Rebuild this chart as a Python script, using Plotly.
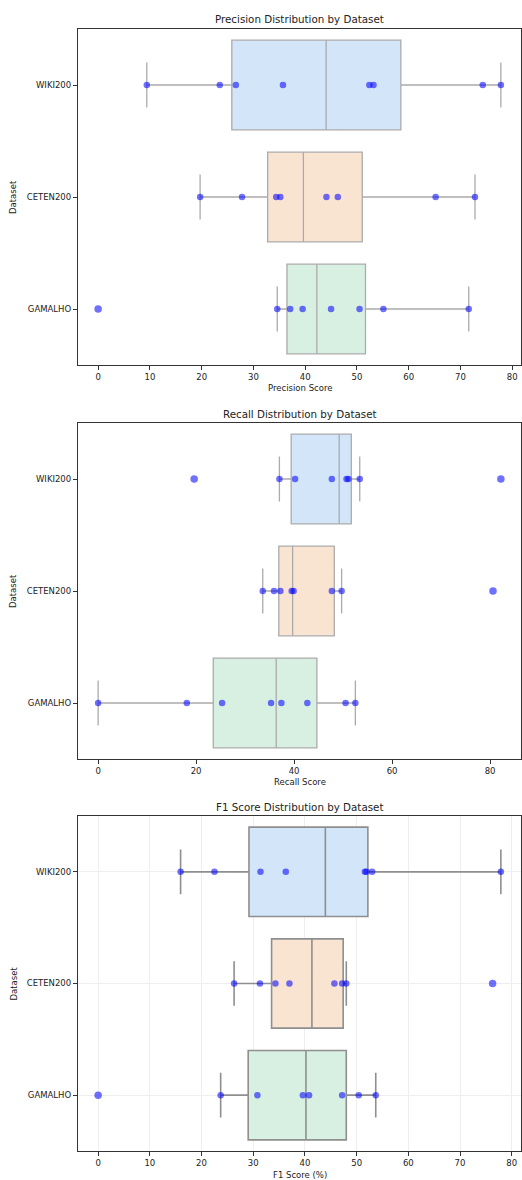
import numpy as np
import plotly.graph_objects as go

datasets = ["WIKI200", "CETEN200", "GAMALHO"]

precision = {
    "WIKI200": [9.4, 23.5, 26.6, 35.7, 52.4, 53.2, 74.3, 77.8],
    "CETEN200": [19.7, 27.8, 34.4, 35.2, 44.1, 46.3, 65.2, 72.8],
    "GAMALHO": [0.0, 34.6, 37.1, 39.5, 45.0, 50.5, 55.1, 71.6],
}
recall = {
    "WIKI200": [19.6, 37.0, 40.2, 47.7, 50.7, 51.1, 53.4, 82.2],
    "CETEN200": [33.6, 35.9, 37.2, 39.5, 39.9, 47.7, 49.7, 80.6],
    "GAMALHO": [0.0, 18.1, 25.3, 35.3, 37.4, 42.7, 50.5, 52.5],
}
f1 = {
    "WIKI200": [15.95, 22.5, 31.4, 36.3, 51.6, 51.9, 53.0, 77.9],
    "CETEN200": [26.3, 31.3, 34.3, 37.0, 45.7, 47.2, 48.0, 76.3],
    "GAMALHO": [0.0, 23.7, 30.8, 39.6, 40.8, 47.2, 50.4, 53.7],
}

panels = [
    ("Precision Distribution by Dataset", "Precision Score", precision, 10),
    ("Recall Distribution by Dataset", "Recall Score", recall, 20),
    ("F1 Score Distribution by Dataset", "F1 Score (%)", f1, 10),
]

fills = {"WIKI200": "#d3e5f9", "CETEN200": "#f9e4d2", "GAMALHO": "#d8f0e2"}

W, H = 522, 1180
L, R = 78, 1
# pixel top/bottom of each axes frame
frames = [(29, 365), (423, 759), (816, 1151)]
title_y = [19, 414, 807]
xlabel_y = [388, 782, 1175]

FONT = "DejaVu Sans"
fig = go.Figure()
annotations = []

for i, (title, xlabel, data, dtick) in enumerate(panels):
    n = i + 1
    xa = "x" if n == 1 else f"x{n}"
    ya = "y" if n == 1 else f"y{n}"
    grid = (i == 2)
    edge = "#8f8f8f" if grid else "#ababab"
    lw = 1.6 if grid else 1.3
    allv = []
    for ds in datasets:
        vals = np.array(data[ds], dtype=float)
        allv.extend(vals.tolist())
        q1, med, q3 = np.percentile(vals, [25, 50, 75])
        iqr = q3 - q1
        lo_lim, hi_lim = q1 - 1.5 * iqr, q3 + 1.5 * iqr
        inside = vals[(vals >= lo_lim) & (vals <= hi_lim)]
        lf, uf = inside.min(), inside.max()
        fig.add_trace(go.Box(
            y=[ds], q1=[q1], median=[med], q3=[q3], lowerfence=[lf], upperfence=[uf],
            orientation="h", boxpoints=False, width=0.8, whiskerwidth=0.5,
            fillcolor=fills[ds], line=dict(color=edge, width=lw),
            xaxis=xa, yaxis=ya, showlegend=False, hoverinfo="skip",
        ))
        out = (vals < lo_lim) | (vals > hi_lim)
        sizes = [7.5 if o else 6.5 for o in out]
        fig.add_trace(go.Scatter(
            x=vals, y=[ds] * len(vals), mode="markers",
            marker=dict(color="rgba(0,0,255,0.8)", size=sizes, line=dict(width=0)),
            xaxis=xa, yaxis=ya, showlegend=False, hoverinfo="skip",
        ))
    mn, mx = min(allv), max(allv)
    pad = 0.05 * (mx - mn)
    top, bot = frames[i]
    ydom = [1 - bot / H, 1 - top / H]
    axcommon = dict(showline=True, mirror=True, linecolor="#333333", linewidth=1.2,
                    ticks="outside", ticklen=4, tickcolor="#333333", tickwidth=1,
                    tickfont=dict(family=FONT, size=8.5, color="#222222"),
                    zeroline=False)
    fig.layout[f"xaxis{'' if n == 1 else n}"] = dict(
        anchor=ya, domain=[0, 1], range=[mn - pad, mx + pad], dtick=dtick, tick0=0,
        showgrid=grid, gridcolor="#eeeeee", gridwidth=0.8, **axcommon)
    fig.layout[f"yaxis{'' if n == 1 else n}"] = dict(
        anchor=xa, domain=ydom, type="category",
        categoryorder="array", categoryarray=datasets[::-1], range=[-0.5, 2.5],
        showgrid=grid, gridcolor="#eeeeee", gridwidth=0.8, **axcommon)
    annotations.append(dict(text=title, xref="paper", yref="paper", x=0.5,
                            y=1 - title_y[i] / H, xanchor="center", yanchor="middle",
                            showarrow=False, font=dict(family=FONT, size=10.3, color="#222222")))
    annotations.append(dict(text=xlabel, xref="paper", yref="paper", x=0.5,
                            y=1 - xlabel_y[i] / H, xanchor="center", yanchor="middle",
                            showarrow=False, font=dict(family=FONT, size=8.5, color="#222222")))
    annotations.append(dict(text="Dataset", xref="paper", yref="paper",
                            x=-(L - 13) / (W - L - R), y=1 - (top + bot) / 2 / H,
                            xanchor="center", yanchor="middle", textangle=-90,
                            showarrow=False, font=dict(family=FONT, size=8.5, color="#222222")))

fig.update_layout(
    width=W, height=H, margin=dict(l=L, r=R, t=0, b=0),
    paper_bgcolor="white", plot_bgcolor="white",
    annotations=annotations, font=dict(family=FONT),
)
fig.write_html(
    "out.html",
    config={"displayModeBar": False},
    post_script="document.body.style.margin='0';document.body.style.overflow='hidden';",
)
